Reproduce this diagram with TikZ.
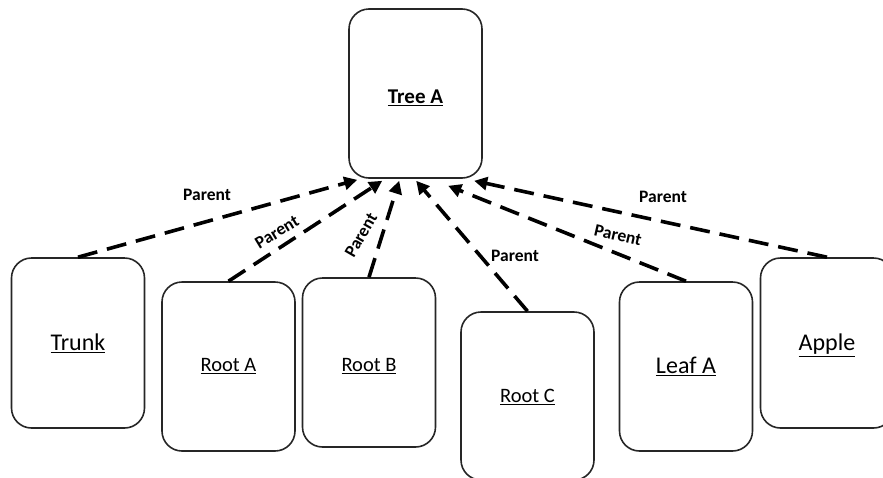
\documentclass[tikz,border=0pt]{standalone}
\usepackage{fontspec}
\setmainfont{Carlito}
\usetikzlibrary{arrows.meta}
\begin{document}
\begin{tikzpicture}[x=1pt,y=-1pt,
  card/.style={draw=black!85, line width=1.6pt, rounded corners=20pt,
    minimum width=133pt, inner sep=0pt, align=center, text depth=6pt},
  bigtext/.style={font=\fontsize{24}{28}\selectfont, text height=21.5pt},
  midtext/.style={font=\fontsize{20.5}{24}\selectfont, text height=19pt},
  link/.style={line width=3.6pt, dash pattern=on 20pt off 10pt,
    -{Triangle[length=13pt,width=13pt]}},
  rel/.style={font=\fontsize{17.5}{19}\selectfont\bfseries, inner sep=1pt}]
\useasboundingbox (0,0) rectangle (883,477);

% parent node
\node[card, minimum height=169pt, font=\fontsize{21}{24}\selectfont\bfseries,
  text height=26.6pt] (tree) at (415.5,93.5) {\underline{Tree A}};

% child nodes
\node[card, minimum height=170pt, bigtext] (trunk) at (78,343) {\underline{Trunk}};
\node[card, minimum height=169pt, midtext, text height=16pt] (roota) at (228.5,366.5) {\underline{Root A}};
\node[card, minimum height=169pt, midtext, text height=24pt] (rootb) at (369,362.5) {\underline{Root B}};
\node[card, minimum height=168pt, midtext] (rootc) at (527.5,396) {\underline{Root C}};
\node[card, minimum height=169pt, bigtext, text height=20pt] (leafa) at (686,366.5) {\underline{Leaf A}};
\node[card, minimum height=170pt, bigtext] (apple) at (827,343) {\underline{Apple}};

% arrow tips on the parent
\coordinate (tTrunk) at ([xshift=9pt,yshift=-1pt]tree.south west);
\coordinate (tRootA) at ([xshift=34pt,yshift=-2pt]tree.south west);
\coordinate (tRootB) at ([xshift=51pt,yshift=-2pt]tree.south west);
\coordinate (tRootC) at ([xshift=68pt,yshift=-2pt]tree.south west);
\coordinate (tLeafA) at ([xshift=100pt,yshift=-7pt]tree.south west);
\coordinate (tApple) at ([xshift=126pt,yshift=-2pt]tree.south west);

% parent links
\draw[link] (trunk.north) -- (tTrunk);
\draw[link] (roota.north) -- (tRootA);
\draw[link] (rootb.north) -- (tRootB);
\draw[link] (rootc.north) -- (tRootC);
\draw[link] (leafa.north) -- (tLeafA);
\draw[link] (apple.north) -- (tApple);

% link labels
\node[rel] (lTrunk) at (207,195) {Parent};
\node[rel, rotate=31] (lRootA) at (277,232) {Parent};
\node[rel, rotate=60] (lRootB) at (361,235) {Parent};
\node[rel] (lRootC) at (515,256) {Parent};
\node[rel, rotate=-13] (lLeafA) at (618,235) {Parent};
\node[rel] (lApple) at (663,197) {Parent};
\end{tikzpicture}
\end{document}
